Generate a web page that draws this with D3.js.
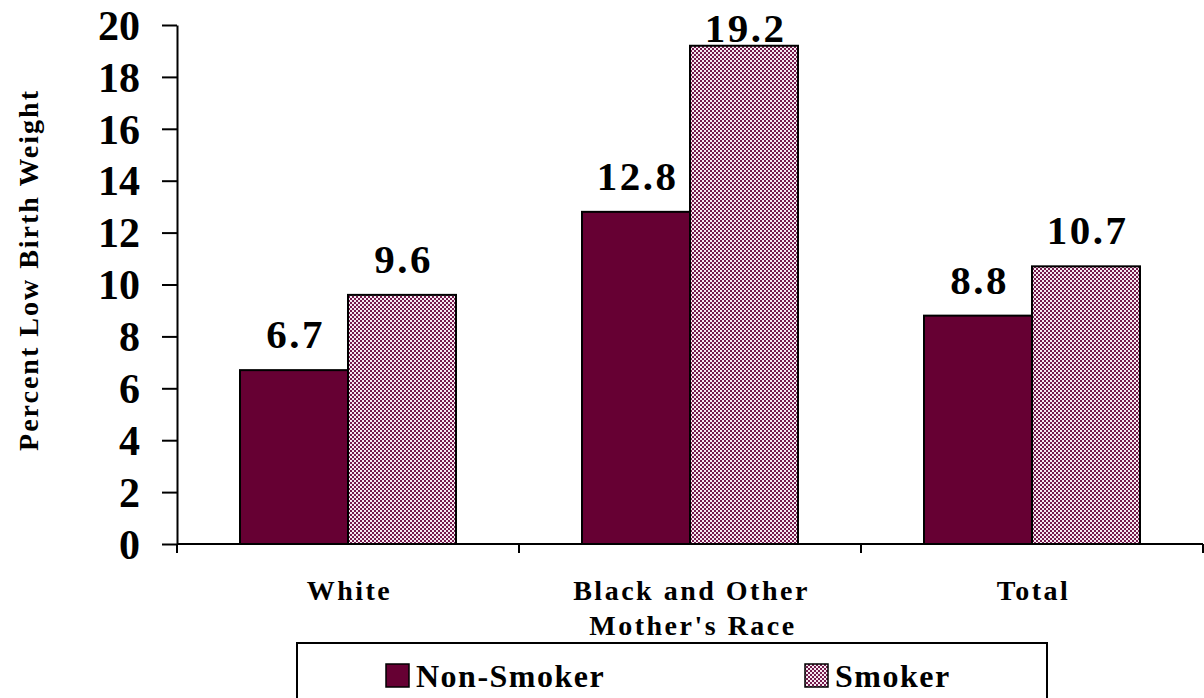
<!DOCTYPE html>
<html><head><meta charset="utf-8">
<script src="https://cdn.jsdelivr.net/npm/d3@7"></script>
<style>body{margin:0;background:#fff;} svg{display:block;}</style>
</head><body>
<svg id="c" width="1204" height="698"></svg>
<script>
const categories = ["White", "Black and Other", "Total"];
const seriesNames = ["Non-Smoker", "Smoker"];
const nonSmoker = [6.7, 12.8, 8.8];
const smoker = [9.6, 19.2, 10.7];
const yTicks = [0, 2, 4, 6, 8, 10, 12, 14, 16, 18, 20];
const xTitle = "Mother's Race";
const yTitle = "Percent Low Birth Weight";

(function(){
const svg = d3.select("#c");
const font = "'Liberation Serif', 'Times New Roman', serif";
const defs = svg.append("defs");
const pat = defs.append("pattern").attr("id","chk").attr("patternUnits","userSpaceOnUse")
  .attr("width",4).attr("height",4);
pat.append("rect").attr("width",4).attr("height",4).attr("fill","#f6eaf1");
pat.append("rect").attr("x",0).attr("y",0).attr("width",2).attr("height",2).attr("fill","#741a4c");
pat.append("rect").attr("x",2).attr("y",2).attr("width",2).attr("height",2).attr("fill","#741a4c");

const mL = 177, mR = 1203, mT = 25, mB = 544;
const x0 = d3.scaleBand().domain(categories).range([mL, mR]).paddingInner(0).paddingOuter(0);
const x1 = d3.scaleBand().domain(seriesNames).range([63, x0.bandwidth() - 63]).padding(0);
const y = d3.scaleLinear().domain([0, 20]).range([mB, mT]);

const data = categories.map((c, i) => ({cat: c, vals: [nonSmoker[i], smoker[i]]}));
const fills = ["#660033", "url(#chk)"];

const g = svg.append("g");
data.forEach(d => {
  d.vals.forEach((v, j) => {
    const xx = x0(d.cat) + x1(seriesNames[j]);
    g.append("rect").attr("x", xx).attr("y", y(v)).attr("width", x1.bandwidth())
      .attr("height", y(0) - y(v)).attr("fill", fills[j]).attr("stroke", "#000").attr("stroke-width", 2);
    g.append("text").attr("x", xx + x1.bandwidth()/2 + 1.5).attr("y", Math.max(y(v) - 22, 42))
      .attr("text-anchor","middle").attr("font-family",font).attr("font-weight","bold")
      .attr("font-size",41).attr("letter-spacing",2.5).text(v.toFixed(1));
  });
});

const yAxis = d3.axisLeft(y).tickValues(yTicks).tickSize(15).tickSizeOuter(0).tickFormat(d3.format("d"));
const ya = svg.append("g").attr("transform",`translate(${mL},0)`).call(yAxis);
ya.select(".domain").attr("stroke","#000").attr("stroke-width",2);
ya.selectAll(".tick line").attr("stroke","#000").attr("stroke-width",2);
ya.selectAll(".tick text").attr("font-family",font).attr("font-weight","bold").attr("font-size",42)
  .attr("fill","#000").attr("x",-37).attr("dy","0.34em");

const xa = svg.append("g").attr("transform",`translate(0,${mB})`);
xa.append("line").attr("x1",mL).attr("x2",mR).attr("stroke","#000").attr("stroke-width",2);
const bounds = [mL, ...categories.map(c => x0(c) + x0.bandwidth())];
bounds.forEach(b => xa.append("line").attr("x1",b).attr("x2",b).attr("y1",0).attr("y2",9).attr("stroke","#000").attr("stroke-width",2));
categories.forEach(c => {
  svg.append("text").attr("x", x0(c) + x0.bandwidth()/2 + 1.5).attr("y", 600).attr("text-anchor","middle")
    .attr("font-family",font).attr("font-weight","bold").attr("font-size",28).attr("letter-spacing",2.5).text(c);
});
svg.append("text").attr("x", (mL + mR)/2 + 3).attr("y", 635).attr("text-anchor","middle")
  .attr("font-family",font).attr("font-weight","bold").attr("font-size",28).attr("letter-spacing",2.5).text(xTitle);

svg.append("text").attr("transform","translate(38,270) rotate(-90)").attr("text-anchor","middle")
  .attr("font-family",font).attr("font-weight","bold").attr("font-size",28).attr("letter-spacing",2).text(yTitle);

const lg = svg.append("g");
lg.append("rect").attr("x",297).attr("y",643).attr("width",750).attr("height",60).attr("fill","#fff").attr("stroke","#000").attr("stroke-width",2);
const legX = [386, 805];
seriesNames.forEach((s, j) => {
  lg.append("rect").attr("x",legX[j]).attr("y",664).attr("width",23).attr("height",23).attr("fill",fills[j]).attr("stroke","#000").attr("stroke-width",1.5);
  lg.append("text").attr("x",legX[j]+30).attr("y",687).attr("font-family",font).attr("font-weight","bold")
    .attr("font-size",32).attr("letter-spacing",1.5).text(s);
});
})();
</script>
</body></html>
